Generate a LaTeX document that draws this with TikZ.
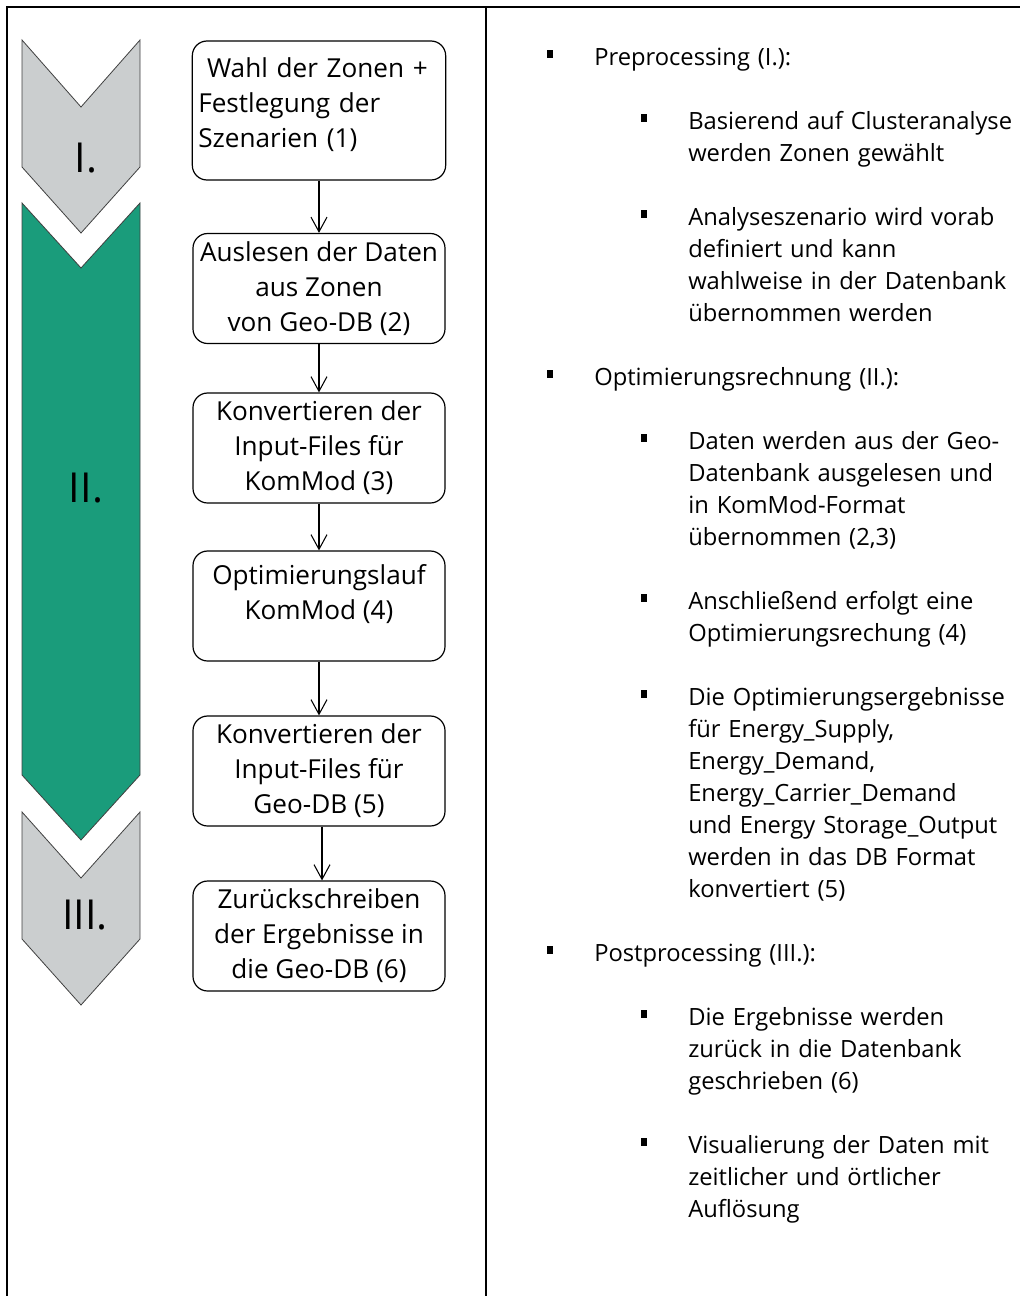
\documentclass[tikz,border=0pt]{standalone}
\usepackage{fontspec}
\setmainfont{Open Sans}
\usetikzlibrary{arrows.meta}
\definecolor{phasegrey}{RGB}{203,206,207}
\definecolor{phasegreen}{HTML}{1A9C7B}

\begin{document}
\begin{tikzpicture}[x=0.75pt,y=-0.75pt,
  stepbox/.style={draw, rounded corners=11pt, line width=0.9pt,
    minimum width=189pt, minimum height=82.5pt, inner sep=0pt,
    font=\fontsize{19.6}{26.25}\selectfont, align=center},
  flow/.style={-{Straight Barb[length=11pt,width=12pt]}, line width=0.8pt},
  phase/.style={draw=black!75, line width=0.6pt},
  numeral/.style={font=\fontsize{31}{31}\selectfont, inner sep=0pt},
  para/.style={anchor=base west, inner sep=0pt, text width=320pt, align=left,
    font=\fontsize{17.8}{24}\selectfont},
  dot/.style={fill, minimum width=4.2pt, minimum height=5.6pt, inner sep=0pt}
]
\useasboundingbox (0,0) rectangle (1020,1296);

% outer frame and column divider
\draw[line width=1.6pt] (6,7) -- (1020,7);
\draw[line width=1.6pt] (7,7) -- (7,1296);
\draw[line width=1.6pt] (486,7) -- (486,1296);

% phase chevrons
\draw[phase, fill=phasegrey]  (22,40) -- (81,107) -- (140,40) -- (140,167) -- (81,233) -- (22,167) -- cycle;
\draw[phase, fill=phasegreen] (22,203) -- (81,268) -- (140,203) -- (140,775) -- (81,840) -- (22,775) -- cycle;
\draw[phase, fill=phasegrey]  (22,812) -- (81,878) -- (140,812) -- (140,939) -- (81,1005) -- (22,939) -- cycle;
\node[numeral] (ph1) at (86,158) {I.};
\node[numeral] (ph2) at (86,488) {II.};
\node[numeral] (ph3) at (85,915) {III.};

% process steps
\node[stepbox, minimum height=104.25pt, text width=181pt, inner xsep=4.5pt, align=left] (b1) at (319,110.5)
  {\ Wahl der Zonen +\\Festlegung der\\Szenarien (1)\\[-14pt]\mbox{}};
\node[stepbox] (b2) at (319,288.5) {Auslesen der Daten\\aus Zonen\\von Geo-DB (2)};
\node[stepbox] (b3) at (319,448) {Konvertieren der\\Input-Files für\\KomMod (3)};
\node[stepbox] (b4) at (319,606) {Optimierungslauf\\KomMod (4)\\[-4.5pt]\mbox{}};
\node[stepbox] (b5) at (319,771) {Konvertieren der\\Input-Files für\\Geo-DB (5)};
\node[stepbox] (b6) at (319,936) {Zurückschreiben\\der Ergebnisse in\\die Geo-DB (6)};

\draw[flow] (b1) -- (b2);
\draw[flow] (b2) -- (b3);
\draw[flow] (b3) -- (b4);
\draw[flow] (b4) -- (b5);
\draw[flow] ([xshift=2.25pt]b5.south) -- ([xshift=2.25pt]b6.north);

% description column
\node[dot] (d1) at (550,54) {};
\node[para] (p1) at (594,65) {Preprocessing (I.):};
\node[dot] (d2) at (644,118) {};
\node[para] (p2) at (688,129) {Basierend auf Clusteranalyse\\werden Zonen gewählt};
\node[dot] (d3) at (644,214) {};
\node[para] (p3) at (688,225) {Analyseszenario wird vorab\\definiert und kann\\wahlweise in der Datenbank\\übernommen werden};

\node[dot] (d4) at (550,374) {};
\node[para] (p4) at (594,385) {Optimierungsrechnung (II.):};
\node[dot] (d5) at (644,438) {};
\node[para] (p5) at (688,449) {Daten werden aus der Geo-\\Datenbank ausgelesen und\\in KomMod-Format\\übernommen (2,3)};
\node[dot] (d6) at (644,598) {};
\node[para] (p6) at (688,609) {Anschließend erfolgt eine\\Optimierungsrechung (4)};
\node[dot] (d7) at (644,694) {};
\node[para] (p7) at (688,705) {Die Optimierungsergebnisse\\für Energy\_Supply,\\Energy\_Demand,\\Energy\_Carrier\_Demand\\und Energy Storage\_Output\\werden in das DB Format\\konvertiert (5)};

\node[dot] (d8) at (550,950) {};
\node[para] (p8) at (594,961) {Postprocessing (III.):};
\node[dot] (d9) at (644,1014) {};
\node[para] (p9) at (688,1025) {Die Ergebnisse werden\\zurück in die Datenbank\\geschrieben (6)};
\node[dot] (d10) at (644,1142) {};
\node[para] (p10) at (688,1153) {Visualierung der Daten mit\\zeitlicher und örtlicher\\Auflösung};
\end{tikzpicture}
\end{document}
